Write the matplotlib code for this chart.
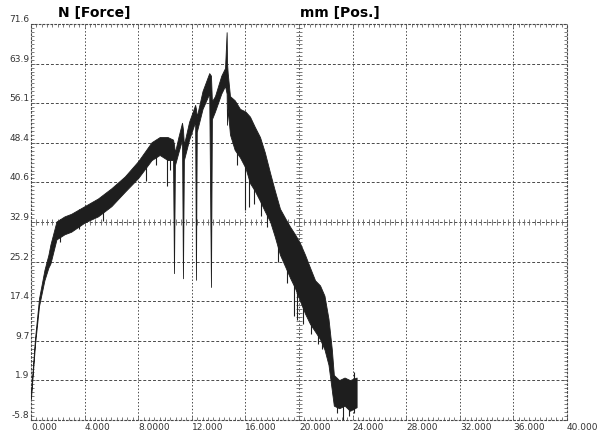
import numpy as np
import matplotlib
matplotlib.use("Agg")
import matplotlib.pyplot as plt

# force band: position (mm), lower and upper edge (N)
pos = [0.00, 0.30, 0.60, 1.00, 1.30, 1.45, 1.90, 2.50, 3.00, 4.00, 5.00, 6.00,
       7.00, 8.00, 9.00, 9.60, 10.20, 10.60, 10.67, 10.74,
       11.00, 11.27, 11.34, 11.41, 11.80, 12.25, 12.31, 12.37,
       12.80, 13.30, 13.43, 13.50, 13.73, 14.20, 14.48, 14.60, 14.63, 14.68,
       14.85, 15.20, 15.60, 16.00, 16.34, 16.70, 17.09, 17.45, 17.84, 18.20,
       18.58, 19.00, 19.33, 19.70, 20.07, 20.45, 20.82, 21.20, 21.57, 21.90,
       22.20, 22.45, 22.60, 23.00, 23.40, 23.80, 24.30]
force_lo = [-1.5, 9.0, 16.5, 21.5, 24.0, 24.8, 29.5, 30.5, 31.0, 32.8, 34.0, 36.0,
            38.8, 41.5, 45.0, 46.0, 45.0, 45.0, 22.9, 44.0,
            46.5, 49.0, 21.9, 45.0, 49.0, 52.5, 21.6, 50.5,
            55.0, 58.0, 20.2, 53.0, 54.5, 58.0, 59.5, 58.0, 51.9, 55.0,
            50.0, 47.0, 45.5, 43.5, 40.5, 39.0, 37.0, 35.0, 33.0, 30.0,
            26.5, 24.0, 22.0, 20.0, 17.5, 15.0, 13.0, 11.5, 10.0, 8.0,
            5.0, 0.0, -3.0, -3.5, -3.0, -4.0, -3.3]
force_hi = [-0.5, 10.2, 18.0, 23.5, 26.5, 28.5, 33.0, 34.0, 34.5, 36.0, 37.5, 39.5,
            41.8, 44.8, 48.5, 49.5, 49.5, 49.0, 48.0, 46.5,
            49.5, 52.3, 51.0, 48.0, 52.5, 55.8, 55.0, 53.5,
            58.5, 62.0, 61.5, 56.5, 57.5, 61.5, 63.0, 70.0, 64.0, 62.0,
            57.5, 56.7, 55.0, 54.5, 53.5, 51.5, 49.5, 46.5, 42.5, 39.0,
            35.5, 33.5, 32.0, 30.5, 28.8, 26.5, 24.0, 21.5, 20.5, 18.5,
            14.0, 8.0, 3.0, 2.0, 2.5, 2.0, 2.5]

# single noise spikes sticking out of the band
spike_x = [2.20, 3.60, 5.40, 8.60, 9.30, 10.15, 10.35, 15.40, 15.95, 16.30, 16.65,
           17.20, 17.60, 18.40, 19.10, 19.65, 19.85, 20.30, 20.90, 21.40, 21.75,
           22.50, 22.80, 23.30, 23.70, 24.10]
spike_lo = [29.0, 31.5, 33.0, 41.0, 44.0, 40.0, 43.0, 44.0, 35.2, 35.8, 36.5,
            34.0, 32.0, 25.0, 21.0, 14.5, 13.7, 13.0, 11.0, 9.0, 8.0,
            -1.0, -4.5, -5.8, -5.0, -4.5]
spike_hi = [33.5, 35.5, 38.0, 46.0, 49.0, 46.0, 46.0, 50.0, 46.0, 44.0, 42.0,
            40.0, 38.0, 34.0, 28.0, 22.0, 22.0, 20.0, 18.0, 14.0, 14.0,
            4.0, 0.0, -2.0, 0.0, 3.5]

x_labels = ["0.000", "4.000", "8.0000", "12.000", "16.000", "20.000",
            "24.000", "28.000", "32.000", "36.000", "40.000"]
y_labels = ["-5.8", "1.9", "9.7", "17.4", "25.2", "32.9",
            "40.6", "48.4", "56.1", "63.9", "71.6"]

x_min, x_max = 0, 40
y_min, y_max = -5.8, 71.6

fig = plt.figure(figsize=(5.97, 4.38), dpi=100)
ax = fig.add_axes([31 / 597, 1 - 420 / 438, 536 / 597, 396 / 438])
ax.set_xlim(x_min, x_max)
ax.set_ylim(y_min, y_max)

x_ticks = np.linspace(x_min, x_max, 11)
y_ticks = np.linspace(y_min, y_max, 11)

grid_col = "#4a4a4a"
# grid: vertical dotted, horizontal dashed
for xv in x_ticks[1:-1]:
    ax.axvline(xv, color=grid_col, lw=0.7, ls=(0, (1.5, 2)), zorder=1)
for yv in y_ticks[1:-1]:
    ax.axhline(yv, color=grid_col, lw=0.7, ls=(0, (3, 2)), zorder=1)

# cross ticks on the centre lines
xc, yc = x_ticks[5], y_ticks[5]
mx = np.arange(x_min, x_max + 0.01, 0.4)
my = np.arange(y_min, y_max + 0.01, (y_max - y_min) / 100)
ax.plot(mx, np.full_like(mx, yc), ls="none", marker="|", ms=4.5, mew=0.6, color="#666666", zorder=1)
ax.plot(np.full_like(my, xc), my, ls="none", marker="_", ms=4.5, mew=0.6, color="#666666", zorder=1)

# frame
for sp in ax.spines.values():
    sp.set_linestyle((0, (1.5, 2)))
    sp.set_linewidth(0.8)
    sp.set_edgecolor(grid_col)

ax.set_xticks(x_ticks)
ax.set_yticks(y_ticks)
ax.set_xticklabels(x_labels, fontsize=6.5, ha="left", color="#333333")
ax.set_yticklabels(y_labels, fontsize=6.5, va="bottom", color="#333333")
ax.set_xticks(mx, minor=True)
ax.set_yticks(my, minor=True)
ax.tick_params(which="both", direction="in", top=True, right=True, color="#666666", width=0.6)
ax.tick_params(which="major", length=3, pad=2)
ax.tick_params(which="minor", length=2.5)
ax.tick_params(axis="y", which="major", pad=1)

# data
ax.fill_between(pos, force_lo, force_hi, color="#1e1e1e", lw=0.6, edgecolor="#1e1e1e", zorder=3)
ax.vlines(spike_x, spike_lo, spike_hi, color="#1e1e1e", lw=0.8, zorder=3)

fig.text(58 / 597, 1 - 13 / 438, "N [Force]", fontsize=10, fontweight="bold", va="center")
fig.text(300 / 597, 1 - 13 / 438, "mm [Pos.]", fontsize=10, fontweight="bold", va="center")

fig.savefig("out.png", dpi=100)
